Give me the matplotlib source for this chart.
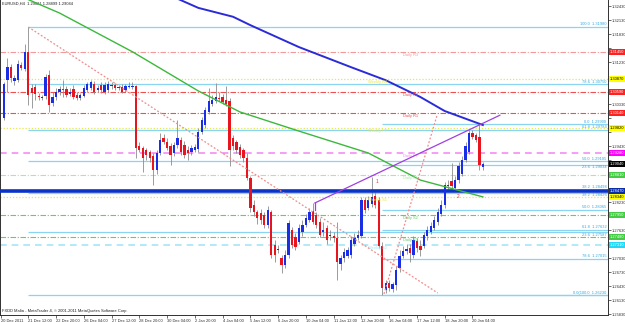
import matplotlib
matplotlib.use("Agg")
import matplotlib.pyplot as plt
import matplotlib.transforms as mtransforms
import numpy as np

plt.rcParams["font.family"] = ["Liberation Sans", "DejaVu Sans"]

# EURUSD H4 candles, bar 0 = 20 Dec 2011 08:00
opens = [1.3003, 1.3084, 1.3112, 1.3082, 1.3084, 1.3117, 1.3108, 1.3145, 1.3067, 1.3069,
         1.3050, 1.3046, 1.3050, 1.3095, 1.3035, 1.3048, 1.3059, 1.3065, 1.3065, 1.3054,
         1.3065, 1.3052, 1.3046, 1.3050, 1.3063, 1.3067, 1.3076, 1.3063, 1.3074, 1.3059,
         1.3063, 1.3072, 1.3074, 1.3067, 1.3069, 1.3063, 1.3069, 1.3069, 1.3072, 1.2943,
         1.2939, 1.2935, 1.2930, 1.2922, 1.2892, 1.2928, 1.2960, 1.2952, 1.2943, 1.2928,
         1.2945, 1.2956, 1.2945, 1.2935, 1.2930, 1.2935, 1.2937, 1.2973, 1.2988, 1.3016,
         1.3033, 1.3039, 1.3046, 1.3048, 1.3042, 1.3039, 1.2960, 1.2952, 1.2941, 1.2935,
         1.2917, 1.2874, 1.2817, 1.2802, 1.2800, 1.2795, 1.2774, 1.2802, 1.2731, 1.2720,
         1.2703, 1.2688, 1.2709, 1.2763, 1.2748, 1.2737, 1.2759, 1.2774, 1.2784, 1.2804,
         1.2795, 1.2780, 1.2759, 1.2767, 1.2750, 1.2750, 1.2746, 1.2690, 1.2703, 1.2707,
         1.2709, 1.2733, 1.2746, 1.2750, 1.2827, 1.2810, 1.2819, 1.2836, 1.2827, 1.2729,
         1.2634, 1.2650, 1.2637, 1.2645, 1.2682, 1.2707, 1.2718, 1.2724, 1.2709, 1.2739,
         1.2729, 1.2729, 1.2750, 1.2759, 1.2767, 1.2780, 1.2797, 1.2817, 1.2857, 1.2868,
         1.2853, 1.2870, 1.2883, 1.2913, 1.2930, 1.2971, 1.2967, 1.2962, 1.2898]
highs = [1.3080, 1.3132, 1.3119, 1.3095, 1.3127, 1.3123, 1.3162, 1.3198, 1.3076, 1.3076,
         1.3057, 1.3052, 1.3097, 1.3106, 1.3059, 1.3067, 1.3072, 1.3084, 1.3072, 1.3067,
         1.3074, 1.3059, 1.3057, 1.3074, 1.3080, 1.3084, 1.3082, 1.3074, 1.3080, 1.3080,
         1.3082, 1.3080, 1.3078, 1.3074, 1.3076, 1.3076, 1.3080, 1.3080, 1.3074, 1.2952,
         1.2943, 1.2939, 1.2935, 1.2928, 1.2935, 1.2971, 1.2969, 1.2960, 1.2950, 1.2952,
         1.2999, 1.2962, 1.2954, 1.2943, 1.2945, 1.2947, 1.2982, 1.3005, 1.3027, 1.3067,
         1.3052, 1.3078, 1.3059, 1.3054, 1.3072, 1.3046, 1.2967, 1.2956, 1.2947, 1.2939,
         1.2928, 1.2879, 1.2827, 1.2806, 1.2808, 1.2802, 1.2814, 1.2806, 1.2742, 1.2731,
         1.2709, 1.2720, 1.2784, 1.2770, 1.2757, 1.2776, 1.2784, 1.2797, 1.2810, 1.2821,
         1.2802, 1.2789, 1.2780, 1.2774, 1.2763, 1.2759, 1.2780, 1.2709, 1.2724, 1.2727,
         1.2750, 1.2757, 1.2763, 1.2834, 1.2834, 1.2836, 1.2877, 1.2844, 1.2834, 1.2737,
         1.2656, 1.2656, 1.2652, 1.2686, 1.2720, 1.2729, 1.2733, 1.2733, 1.2750, 1.2746,
         1.2742, 1.2759, 1.2772, 1.2780, 1.2793, 1.2810, 1.2827, 1.2866, 1.2870, 1.2907,
         1.2879, 1.2909, 1.2922, 1.2952, 1.2977, 1.2977, 1.2971, 1.2990, 1.2909]
lows = [1.2999, 1.3059, 1.3080, 1.3074, 1.3080, 1.3106, 1.3104, 1.3031, 1.3025, 1.3042,
        1.3042, 1.3042, 1.3044, 1.3016, 1.3029, 1.3042, 1.3052, 1.3048, 1.3048, 1.3050,
        1.3044, 1.3042, 1.3042, 1.3048, 1.3059, 1.3063, 1.3054, 1.3059, 1.3057, 1.3054,
        1.3059, 1.3065, 1.3063, 1.3063, 1.3057, 1.3059, 1.3067, 1.3065, 1.2917, 1.2930,
        1.2887, 1.2913, 1.2909, 1.2859, 1.2883, 1.2924, 1.2947, 1.2935, 1.2902, 1.2922,
        1.2939, 1.2924, 1.2917, 1.2913, 1.2924, 1.2930, 1.2930, 1.2969, 1.2982, 1.3012,
        1.3029, 1.3035, 1.3039, 1.3033, 1.3029, 1.2900, 1.2935, 1.2928, 1.2917, 1.2909,
        1.2870, 1.2802, 1.2793, 1.2776, 1.2776, 1.2767, 1.2767, 1.2703, 1.2695, 1.2714,
        1.2671, 1.2682, 1.2703, 1.2724, 1.2720, 1.2733, 1.2750, 1.2770, 1.2780, 1.2776,
        1.2767, 1.2748, 1.2750, 1.2733, 1.2742, 1.2737, 1.2656, 1.2677, 1.2695, 1.2703,
        1.2703, 1.2729, 1.2742, 1.2746, 1.2800, 1.2806, 1.2812, 1.2810, 1.2724, 1.2623,
        1.2628, 1.2632, 1.2630, 1.2634, 1.2673, 1.2703, 1.2712, 1.2695, 1.2703, 1.2716,
        1.2707, 1.2724, 1.2742, 1.2755, 1.2763, 1.2774, 1.2793, 1.2810, 1.2849, 1.2849,
        1.2849, 1.2864, 1.2879, 1.2909, 1.2926, 1.2958, 1.2952, 1.2892, 1.2892]
closes = [1.3076, 1.3112, 1.3089, 1.3089, 1.3119, 1.3110, 1.3145, 1.3052, 1.3057, 1.3054,
          1.3048, 1.3048, 1.3091, 1.3031, 1.3048, 1.3059, 1.3065, 1.3063, 1.3052, 1.3059,
          1.3048, 1.3046, 1.3052, 1.3067, 1.3076, 1.3080, 1.3059, 1.3067, 1.3063, 1.3074,
          1.3076, 1.3074, 1.3067, 1.3069, 1.3059, 1.3072, 1.3072, 1.3072, 1.2939, 1.2935,
          1.2917, 1.2924, 1.2917, 1.2892, 1.2928, 1.2956, 1.2952, 1.2939, 1.2924, 1.2945,
          1.2960, 1.2930, 1.2924, 1.2928, 1.2939, 1.2941, 1.2973, 1.2999, 1.3020, 1.3039,
          1.3042, 1.3048, 1.3044, 1.3037, 1.3033, 1.2935, 1.2943, 1.2935, 1.2924, 1.2917,
          1.2874, 1.2810, 1.2802, 1.2789, 1.2784, 1.2774, 1.2806, 1.2709, 1.2709, 1.2722,
          1.2688, 1.2709, 1.2778, 1.2731, 1.2727, 1.2767, 1.2774, 1.2789, 1.2802, 1.2780,
          1.2774, 1.2752, 1.2763, 1.2742, 1.2752, 1.2746, 1.2695, 1.2703, 1.2716, 1.2720,
          1.2742, 1.2746, 1.2752, 1.2827, 1.2806, 1.2827, 1.2834, 1.2817, 1.2729, 1.2639,
          1.2650, 1.2639, 1.2647, 1.2677, 1.2707, 1.2718, 1.2722, 1.2714, 1.2742, 1.2724,
          1.2720, 1.2752, 1.2763, 1.2772, 1.2784, 1.2802, 1.2817, 1.2859, 1.2859, 1.2857,
          1.2870, 1.2900, 1.2913, 1.2943, 1.2971, 1.2962, 1.2956, 1.2902, 1.2904]

# time axis
date_ticks = [-0.9, 7, 15, 23, 31, 39, 47, 55, 63, 71, 79, 87, 95, 103, 111, 119, 127, 135]
date_labels = ["20 Dec 2011", "21 Dec 12:00", "22 Dec 20:00", "26 Dec 04:00", "27 Dec 12:00",
               "28 Dec 20:00", "30 Dec 04:00", "2 Jan 20:00", "4 Jan 04:00", "5 Jan 12:00",
               "6 Jan 20:00", "10 Jan 04:00", "11 Jan 12:00", "12 Jan 20:00", "16 Jan 04:00",
               "17 Jan 12:00", "18 Jan 20:00", "20 Jan 04:00"]
price_ticks = [1.32430 - 0.003 * k for k in range(23)]

# moving averages (read at a few bars)
ma_slow_x = [49, 56, 66, 71, 85, 100, 110, 120, 127, 138]
ma_slow_y = [1.3262, 1.3239, 1.3220, 1.3202, 1.3155, 1.3112, 1.3084, 1.3048, 1.3018, 1.2988]
ma_fast_x = [6, 16, 37, 56, 68, 85, 105, 120, 138]
ma_fast_y = [1.3260, 1.3228, 1.3145, 1.3061, 1.3016, 1.2975, 1.2928, 1.2870, 1.2834]

# pivot levels
daily_names = ["Daily R3", "Daily R2", "Daily R1", "Daily PP", "Daily S1", "Daily S2", "Daily S3"]
daily_levels = [1.3145, 1.3059, 1.3014, 1.2928, 1.2881, 1.2795, 1.2748]
weekly_names = ["Weekly R1", "Weekly PP", "Weekly S1", "Weekly S2"]
weekly_levels = [1.3087, 1.2982, 1.2834, 1.2731]
support_line = 1.2847

# fibonacci retracements: (start bar, 100% price, 0% price)
fib_a = (7, 1.3198, 1.2623)
fib_b = (109, 1.2623, 1.2990)
fib_ratios = [0.0, 23.6, 38.2, 50.0, 61.8, 78.6, 100.0]

# hand drawn lines (bar, price)
trend_down = [(7, 1.3198), (125, 1.2628)]
trend_up = [(109.5, 1.2626), (124.8, 1.3009)]
channel = [(89.6, 1.2821), (142.9, 1.3009)]

o, h, l, c = map(np.array, (opens, highs, lows, closes))
bars = np.arange(len(o))

fig = plt.figure(figsize=(6.25, 3.22), dpi=100)
ax = fig.add_axes([0, 7 / 322, 608 / 625, 315 / 322])
ax.set_xlim(-1.15, 174.06)
ax.set_ylim(1.25809, 1.32559)
fs = 2.9

# candles
up = c >= o
body = np.where(np.abs(c - o) < 0.00008, np.where(up, 0.00008, -0.00008), c - o)
ax.vlines(bars, l, h, color="#8c8c8c", lw=0.6, zorder=3)
ax.bar(bars[up], body[up], bottom=o[up], width=0.66, color="#1a2ee6", zorder=4)
ax.bar(bars[~up], body[~up], bottom=o[~up], width=0.66, color="#e8141e", zorder=4)

# moving averages
ax.plot(ma_slow_x, ma_slow_y, color="#2b2bd8", lw=1.4, zorder=5)
ax.plot(ma_fast_x, ma_fast_y, color="#3cb83c", lw=1.0, zorder=5)

# pivots
dashdot = (0, (5, 1.5, 1, 1.5))
d_style = {"Daily R3": ("#f29a9a", dashdot), "Daily R2": ("#ee5050", dashdot),
           "Daily R1": ("#ee5050", dashdot), "Daily PP": ("#f58cf5", (0, (4, 3))),
           "Daily S1": ("#a8e8a8", dashdot), "Daily S2": ("#66cc66", dashdot),
           "Daily S3": ("#66cc66", dashdot)}
for name, lvl in zip(daily_names, daily_levels):
    col, ls = d_style[name]
    lw = 1.2 if name == "Daily PP" else 0.8
    ax.axhline(lvl, color=col, ls=ls, lw=lw, zorder=2)
    ax.text(114.9, lvl - 0.0002, name, color=col, fontsize=fs, va="top", ha="left", zorder=6)
w_style = {"Weekly R1": ("#e6e650", (0, (1, 1.5))), "Weekly PP": ("#e6e650", (0, (1, 1.5))),
           "Weekly S1": ("#e6e650", (0, (1, 1.5))), "Weekly S2": ("#a6e6f6", (0, (4, 3)))}
for name, lvl in zip(weekly_names, weekly_levels):
    col, ls = w_style[name]
    lw = 1.2 if name == "Weekly S2" else 0.9
    ax.axhline(lvl, color=col, ls=ls, lw=lw, zorder=2)
    ax.text(104.8, lvl - 0.0002, name, color=col, fontsize=fs, va="top", ha="left", zorder=6)
ax.axhline(support_line, color="#0a34c8", lw=2.6, zorder=3)

# fibonacci
x_end = ax.get_xlim()[1]
fib_labels = {}
for start, p100, p0 in (fib_a, fib_b):
    for r in fib_ratios:
        p = p0 + (p100 - p0) * r / 100.0
        ax.hlines(p, start, x_end, color="#8ad4f2", lw=0.9, zorder=2)
        key = round(p, 4)
        fib_labels[key] = (fib_labels[key][0] + f"({r:.1f}", p) if key in fib_labels else (f"{r:.1f}", p)
prev = None
for lab, p in sorted(fib_labels.values(), key=lambda t: -t[1]):
    # a label crowding the one above it goes under its own line
    below = prev is not None and prev - p < 0.0009
    ax.text(173.6, p - 0.00012 if below else p + 0.00012, f"{lab}  {p:.5f}", color="#35a9e0",
            fontsize=fs, ha="right", va="top" if below else "bottom", zorder=6)
    prev = p

# trend lines
for pts, col, ls in ((trend_down, "#f08c8c", (0, (1.5, 1.5))),
                     (trend_up, "#f08c8c", (0, (1.5, 1.5))),
                     (channel, "#a040e0", "-")):
    xs, ys = zip(*pts)
    ax.plot(xs, ys, color=col, ls=ls, lw=0.9, zorder=6)
ax.plot([channel[0][0]] * 2, [channel[0][1], channel[0][1] - 0.0015], color="#a040e0", lw=0.9, zorder=6)
ax.text(107.5, 1.2866, "1", color="#e03030", fontsize=fs + 0.5, ha="center", va="center", zorder=6)
ax.text(130.8, 1.2834, "2", color="#e03030", fontsize=fs + 0.5, ha="center", va="center", zorder=6)

# price boxes on the right scale
boxes = [(daily_levels[0], "#ff2020", "white"), (weekly_levels[0], "#ffff00", "black"),
         (daily_levels[1], "#ff2020", "white"), (daily_levels[2], "#ff2020", "white"),
         (weekly_levels[1], "#ffff00", "black"), (daily_levels[3], "#ff00ff", "white"),
         (closes[-1], "#000000", "white"), (daily_levels[4], "#44cc44", "white"),
         (support_line, "#0a2ea8", "white"), (weekly_levels[2], "#ffff00", "black"),
         (daily_levels[5], "#44cc44", "white"), (daily_levels[6], "#44cc44", "white"),
         (weekly_levels[3], "#22d8f8", "white")]

# axes look
ax.spines["top"].set_visible(False)
for side in ("left", "bottom", "right"):
    ax.spines[side].set_color("#303030")
    ax.spines[side].set_linewidth(0.7)
ax.yaxis.tick_right()
ax.set_yticks(price_ticks)
# scale values hidden under a price box are not shown
box_prices = np.array([b[0] for b in boxes])
ax.set_yticklabels(["" if np.min(np.abs(box_prices - p)) < 0.0011 else f"{p:.5f}" for p in price_ticks],
                   fontsize=fs)
ax.set_xticks(date_ticks)
ax.set_xticklabels(date_labels, fontsize=fs)
plt.setp(ax.get_xticklabels(), ha="left")
ax.tick_params(axis="both", length=2, width=0.5, pad=0.8, colors="#303030")

tr = mtransforms.blended_transform_factory(fig.transFigure, ax.transData)
for p, fc, tc in boxes:
    ax.text(610 / 625, p, f"{p:.5f}", transform=tr, fontsize=fs, color=tc, ha="left", va="center",
            bbox=dict(boxstyle="square,pad=0.25", fc=fc, ec="none"), zorder=10, clip_on=False)

ax.text(0.004, 0.995, "EURUSD,H4  1.29021 1.28899 1.29044", transform=ax.transAxes,
        fontsize=fs, va="top", ha="left", color="#202020")
ax.text(0.003, 0.013, "FXDD Malta - MetaTrader 4, \u00a9 2001-2011 MetaQuotes Software Corp.",
        transform=ax.transAxes, fontsize=fs, va="center", ha="left", color="#202020")

fig.savefig("out.png", dpi=100, facecolor="white")
